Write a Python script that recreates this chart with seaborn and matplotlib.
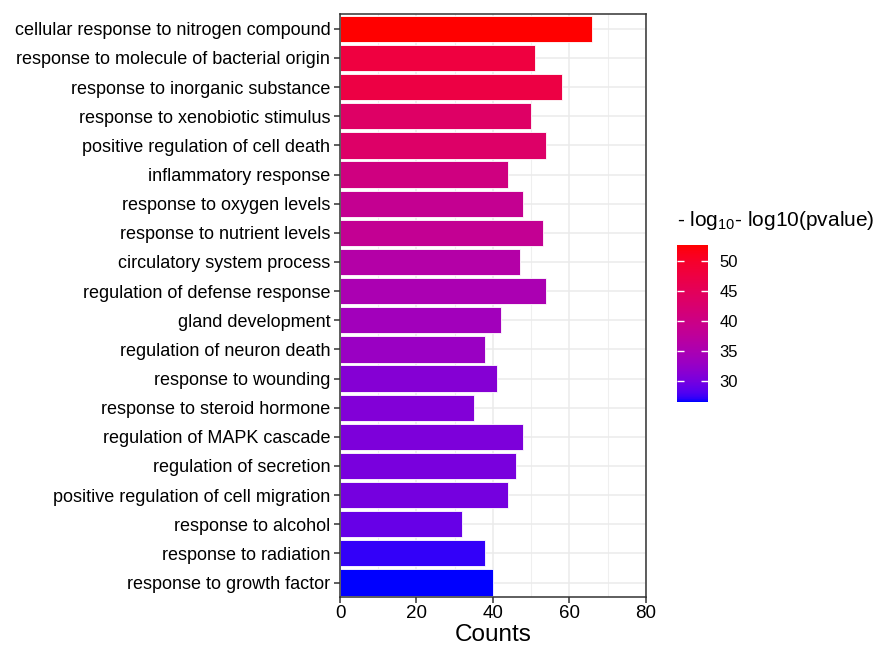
import matplotlib

matplotlib.use("Agg")
import matplotlib.pyplot as plt
import numpy as np
import seaborn as sns
from matplotlib.colors import LinearSegmentedColormap, Normalize
from matplotlib.cm import ScalarMappable

terms = [
    "cellular response to nitrogen compound",
    "response to molecule of bacterial origin",
    "response to inorganic substance",
    "response to xenobiotic stimulus",
    "positive regulation of cell death",
    "inflammatory response",
    "response to oxygen levels",
    "response to nutrient levels",
    "circulatory system process",
    "regulation of defense response",
    "gland development",
    "regulation of neuron death",
    "response to wounding",
    "response to steroid hormone",
    "regulation of MAPK cascade",
    "regulation of secretion",
    "positive regulation of cell migration",
    "response to alcohol",
    "response to radiation",
    "response to growth factor",
]
counts = [66, 51, 58, 50, 54, 44, 48, 53, 47, 54, 42, 38, 41, 35, 48, 46, 44, 32, 38, 40]
neglog_p = [52.6, 47.8, 47.4, 43.6, 43.4, 40.6, 38.6, 38.4, 36.2, 35.0,
            34.0, 33.0, 31.2, 30.9, 30.6, 30.3, 30.0, 29.2, 27.3, 26.6]
cbar_ticks = [30, 35, 40, 45, 50]


# ggplot-like blue -> red gradient interpolated in Lab space
def srgb_to_lab(rgb):
    rgb = np.asarray(rgb, dtype=float)
    lin = np.where(rgb > 0.04045, ((rgb + 0.055) / 1.055) ** 2.4, rgb / 12.92)
    m = np.array([[0.4124, 0.3576, 0.1805], [0.2126, 0.7152, 0.0722], [0.0193, 0.1192, 0.9505]])
    xyz = m @ lin / np.array([0.95047, 1.0, 1.08883])
    f = np.where(xyz > 0.008856, np.cbrt(xyz), 7.787 * xyz + 16 / 116)
    return np.array([116 * f[1] - 16, 500 * (f[0] - f[1]), 200 * (f[1] - f[2])])


def lab_to_srgb(lab):
    L, a, b = lab
    fy = (L + 16) / 116
    fx = fy + a / 500
    fz = fy - b / 200
    f = np.array([fx, fy, fz])
    xyz = np.where(f ** 3 > 0.008856, f ** 3, (f - 16 / 116) / 7.787)
    xyz = xyz * np.array([0.95047, 1.0, 1.08883])
    minv = np.array([[3.2406, -1.5372, -0.4986], [-0.9689, 1.8758, 0.0415], [0.0557, -0.2040, 1.0570]])
    lin = np.clip(minv @ xyz, 0, 1)
    rgb = np.where(lin > 0.0031308, 1.055 * lin ** (1 / 2.4) - 0.055, 12.92 * lin)
    return np.clip(rgb, 0, 1)


lab_lo = srgb_to_lab([0, 0, 1])
lab_hi = srgb_to_lab([1, 0, 0])
steps = np.linspace(0, 1, 64)
cmap = LinearSegmentedColormap.from_list(
    "bluered", [lab_to_srgb(lab_lo + t * (lab_hi - lab_lo)) for t in steps]
)
norm = Normalize(vmin=min(neglog_p), vmax=max(neglog_p))
bar_colors = [cmap(norm(v)) for v in neglog_p]

sns.set_style("white")
plt.rcParams["font.family"] = ["Liberation Sans", "DejaVu Sans"]
plt.rcParams["mathtext.default"] = "regular"
plt.rcParams["text.color"] = "black"

fig = plt.figure(figsize=(8.81, 6.49), dpi=100)
ax = fig.add_axes([0.386, 0.080, 0.347, 0.898])

sns.barplot(
    x=counts,
    y=terms,
    hue=terms,
    palette=bar_colors,
    legend=False,
    width=0.9,
    edgecolor="white",
    linewidth=0.6,
    saturation=1,
    orient="h",
    ax=ax,
)

ax.set_xlim(0, 80)
ax.set_ylim(19.5, -0.5)
ax.set_xticks([0, 20, 40, 60, 80])
ax.set_xticks([10, 30, 50, 70], minor=True)
ax.set_axisbelow(True)
ax.grid(axis="x", which="major", color="#EBEBEB", linewidth=1.1)
ax.grid(axis="x", which="minor", color="#EFEFEF", linewidth=0.8)
ax.grid(axis="y", which="major", color="#EBEBEB", linewidth=1.1)
for s in ax.spines.values():
    s.set_color("#333333")
    s.set_linewidth(1.1)

ax.tick_params(axis="both", which="major", direction="out", length=4, width=1.1,
               color="#333333", labelsize=13, labelcolor="black",
               left=True, bottom=True)
ax.tick_params(axis="x", which="minor", length=0)
ax.tick_params(axis="y", pad=3)
ax.tick_params(axis="x", pad=2, labelsize=13.5)
ax.set_xlabel("Counts", fontsize=17.5, labelpad=1, color="black")
ax.set_ylabel("")

# colour bar
cax = fig.add_axes([0.768, 0.381, 0.036, 0.241])
cb = fig.colorbar(ScalarMappable(norm=norm, cmap=cmap), cax=cax, ticks=cbar_ticks)
cb.outline.set_visible(False)
cax.set_axisbelow(False)
cax.tick_params(axis="y", direction="in", length=5, width=1, color="white",
                labelsize=12, labelcolor="black", pad=8, left=True, right=True)
fig.text(0.769, 0.660, "- log$_{10}$- log10(pvalue)", fontsize=15,
         ha="left", va="center")

fig.savefig("out.png", dpi=100)
